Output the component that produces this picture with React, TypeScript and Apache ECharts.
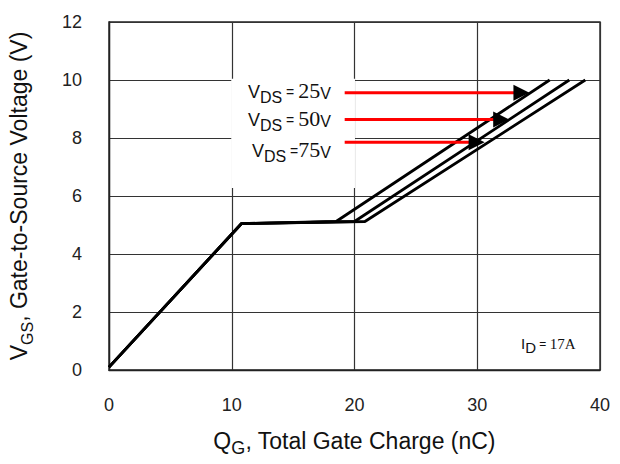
import React, { useEffect, useRef } from "react";
import * as echarts from "echarts";

const SANS = '"Liberation Sans", Arial, Helvetica, sans-serif';
const SERIF = '"Liberation Serif", "Times New Roman", serif';

// Axis ranges and tick spacing
const xRange = [0, 40];
const xStep = 10;
const yRange = [0, 12];
const yStep = 2;

// V_GS versus Q_G for the three drain-source voltages
const vdsLabels = ["25", "50", "75"];
const curve25V: number[][] = [[0, 0.1], [10.8, 5.05], [18.5, 5.12], [35.9, 10]];
const curve50V: number[][] = [[0, 0.1], [10.8, 5.05], [20.0, 5.12], [37.5, 10]];
const curve75V: number[][] = [[0, 0.1], [10.8, 5.05], [20.85, 5.12], [38.8, 10]];

// Call-out arrows: level, tail, end of red shaft, arrow-head centre
const arrowLevel = [9.56, 8.64, 7.85];
const arrowTail = [19.2, 19.2, 19.2];
const arrowShaftEnd = [33.0, 31.35, 29.4];
const arrowHead = [33.6, 31.95, 29.95];

// Clear panel behind the V_DS legend (Q_G, V_GS corners)
const legendPanel = [[9.96, 6.28], [20.04, 10.04]];

const idLabel = "17A";

export default function App() {
  const ref = useRef<HTMLDivElement>(null);

  useEffect(() => {
    if (!ref.current) return;
    const chart = echarts.init(ref.current, undefined, { renderer: "svg" });

    const curveSeries = [curve25V, curve50V, curve75V].map((pts, i) => ({
      type: "line",
      name: `VDS ${vdsLabels[i]}V`,
      data: pts,
      symbol: "none",
      z: 3,
      lineStyle: { color: "#000", width: 2.8 },
      ...(i === 0
        ? {
            markArea: {
              silent: true,
              itemStyle: { color: "#fff", opacity: 1, borderWidth: 0 },
              data: [[{ coord: legendPanel[0] }, { coord: legendPanel[1] }]],
            },
          }
        : {}),
    }));

    const arrowShafts = arrowLevel.map((y, i) => ({
      type: "line",
      data: [
        [arrowTail[i], y],
        [arrowShaftEnd[i], y],
      ],
      symbol: "none",
      z: 4,
      lineStyle: { color: "#ff0000", width: 3 },
    }));

    const arrowHeads = {
      type: "scatter",
      data: arrowLevel.map((y, i) => [arrowHead[i], y]),
      symbol: "triangle",
      symbolRotate: -90,
      symbolSize: [16, 16],
      z: 5,
      itemStyle: { color: "#000", opacity: 1 },
    };

    const mainTok = (size: number, family = SANS, pb = 4) => ({
      fontFamily: family,
      fontSize: size,
      lineHeight: size,
      verticalAlign: "bottom",
      padding: [0, 0, pb, 0],
      fill: "#111",
      color: "#111",
    });
    const subTok = (size: number) => ({
      fontFamily: SANS,
      fontSize: size,
      lineHeight: size,
      verticalAlign: "bottom",
      fill: "#111",
      color: "#111",
    });

    const legendRows = [
      { x: 248, y: 105, text: `{v|V}{s|DS}{e| = }{n|${vdsLabels[0]}}{u|V}` },
      { x: 248, y: 133, text: `{v|V}{s|DS}{e| = }{n|${vdsLabels[1]}}{u|V}` },
      { x: 252, y: 164, text: `{v|V}{s|DS}{e| =}{n|${vdsLabels[2]}}{u|V}` },
    ];
    const legendRich = {
      v: mainTok(18),
      s: subTok(16),
      e: mainTok(14, SANS, 6),
      n: mainTok(22, SERIF),
      u: mainTok(16),
    };

    const option = {
      animation: false,
      backgroundColor: "#fff",
      grid: {
        left: 109,
        right: 20,
        top: 22,
        bottom: 94,
        show: true,
        borderColor: "#222",
        borderWidth: 1.4,
        outerBoundsMode: "none",
      },
      xAxis: {
        type: "value",
        min: xRange[0],
        max: xRange[1],
        interval: xStep,
        name: "{m|Q}{s|G}{m|, Total Gate Charge (nC)}",
        nameLocation: "middle",
        nameGap: 64,
        nameTextStyle: {
          rich: { m: mainTok(23, SANS, 5), s: subTok(18) },
        },
        axisLine: { show: true, onZero: false, lineStyle: { color: "#222", width: 1.4 } },
        axisTick: { show: false },
        axisLabel: {
          fontFamily: SANS,
          fontSize: 18,
          color: "#222",
          margin: 26,
        },
        splitLine: { show: true, lineStyle: { color: "#333", width: 1.2 } },
      },
      yAxis: {
        type: "value",
        min: yRange[0],
        max: yRange[1],
        interval: yStep,
        name: "{m|V}{s|GS}{m|, Gate-to-Source Voltage (V)}",
        nameLocation: "middle",
        nameRotate: 90,
        nameGap: 74,
        nameTextStyle: {
          rich: { m: mainTok(23, SANS, 5), s: subTok(16) },
        },
        axisLine: { show: true, onZero: false, lineStyle: { color: "#222", width: 1.4 } },
        axisTick: { show: false },
        axisLabel: {
          fontFamily: SANS,
          fontSize: 18,
          color: "#222",
          margin: 27,
        },
        splitLine: { show: true, lineStyle: { color: "#333", width: 1.2 } },
      },
      series: [...curveSeries, ...arrowShafts, arrowHeads],
      graphic: [
        ...legendRows.map((r) => ({
          type: "text",
          x: r.x,
          y: r.y,
          z: 10,
          style: { text: r.text, verticalAlign: "bottom", rich: legendRich, fill: "#111" },
        })),
        {
          type: "text",
          x: 521,
          y: 355,
          z: 10,
          style: {
            text: `{v|I}{s|D}{e| = }{n|${idLabel}}`,
            verticalAlign: "bottom",
            fill: "#111",
            rich: {
              v: mainTok(15, SANS, 4),
              s: subTok(15),
              e: mainTok(12, SANS, 5),
              n: mainTok(15, SERIF, 4),
            },
          },
        },
      ],
    };

    chart.setOption(option as any);
    return () => chart.dispose();
  }, []);

  return (
    <div
      ref={ref}
      style={{ position: "fixed", left: 0, top: 0, width: 620, height: 464, background: "#fff" }}
    />
  );
}
